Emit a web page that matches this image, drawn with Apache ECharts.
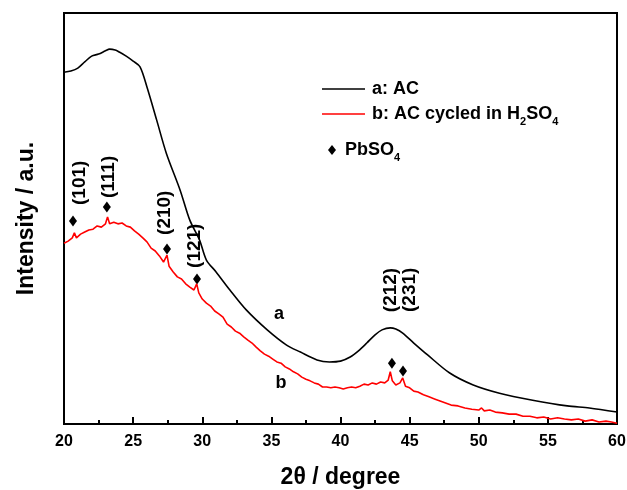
<!DOCTYPE html>
<html>
<head>
<meta charset="utf-8">
<script src="https://cdn.jsdelivr.net/npm/echarts@6/dist/echarts.min.js"></script>
<style>
  html, body { margin: 0; padding: 0; background: #fff; }
  #chart { width: 627px; height: 490px; }
</style>
</head>
<body>
<div id="chart"></div>
<script>
// XRD patterns: 2θ (degree) and relative intensity (a.u.)
const acTheta = [20.0, 20.5, 21.0, 21.5, 22.0, 22.5, 23.0, 23.3, 23.7, 24.0, 24.5, 25.0, 25.5, 26.0, 26.7, 27.4,
  28.4, 29.1, 29.8, 30.3, 31.0, 32.0, 33.2, 34.7, 36.1, 37.1, 38.3, 39.2, 40.0, 40.7, 41.3, 41.9, 42.5, 43.0,
  43.6, 44.0, 44.5, 45.3, 46.3, 47.9, 49.6, 51.5, 53.9, 56.4, 58.0, 60.0];
const acIntensity = [85.6, 85.9, 86.6, 88.1, 89.5, 90.0, 90.8, 91.2, 91.0, 90.5, 89.5, 88.3, 86.9, 82.0, 74.0, 65.9,
  56.9, 49.6, 44.8, 39.9, 37.0, 32.6, 27.7, 22.9, 19.2, 17.5, 15.6, 15.1, 15.3, 16.3, 17.8, 19.7, 21.7, 22.9,
  23.4, 23.1, 22.1, 19.7, 16.8, 12.4, 9.5, 7.5, 5.8, 4.4, 3.9, 2.9];

const cycledTheta = [20.0, 20.3, 20.6, 20.75, 20.9, 21.2, 21.5, 21.8, 22.1, 22.4, 22.7, 23.0, 23.15, 23.3, 23.6, 23.9,
  24.2, 24.5, 24.8, 25.1, 25.4, 25.7, 26.0, 26.3, 26.6, 26.9, 27.2, 27.45, 27.6, 27.9, 28.2, 28.5, 28.8, 29.1,
  29.4, 29.6, 29.75, 30.0, 30.3, 30.6, 30.9, 31.2, 31.5, 31.8, 32.1, 32.4, 32.7, 33.0, 33.3, 33.6, 33.9, 34.2,
  34.5, 34.8, 35.1, 35.4, 35.7, 36.0, 36.3, 36.6, 36.9, 37.2, 37.5, 37.8, 38.1, 38.4, 38.7, 39.0, 39.3, 39.6,
  39.9, 40.2, 40.5, 40.8, 41.1, 41.4, 41.7, 42.0, 42.3, 42.6, 42.9, 43.2, 43.45, 43.6, 43.75, 44.0, 44.3, 44.5,
  44.7, 45.0, 45.3, 45.6, 46.0, 46.4, 46.8, 47.2, 47.6, 48.0, 48.5, 49.0, 49.5, 50.0, 50.2, 50.4, 50.8, 51.2,
  51.7, 52.2, 52.7, 53.2, 53.7, 54.2, 54.7, 55.2, 55.7, 56.2, 56.7, 57.2, 57.7, 58.2, 58.7, 59.2, 59.6, 60.0];
const cycledIntensity = [44.0, 44.5, 45.3, 46.5, 45.3, 46.2, 46.7, 47.2, 47.4, 48.2, 47.9, 48.7, 50.4, 48.7, 49.1, 48.7,
  48.9, 48.2, 47.9, 47.0, 46.2, 45.3, 44.3, 42.8, 42.1, 40.9, 39.4, 41.1, 38.4, 37.0, 35.8, 35.3, 34.1, 33.3,
  32.6, 34.1, 31.9, 30.4, 29.4, 28.7, 27.5, 26.8, 26.0, 24.3, 23.6, 22.6, 22.1, 21.2, 20.4, 19.7, 18.7, 17.8,
  17.0, 16.5, 15.8, 15.1, 14.8, 13.9, 13.4, 12.7, 12.2, 11.4, 10.9, 10.5, 10.0, 9.7, 9.0, 9.0, 8.8, 9.0,
  8.8, 8.5, 8.8, 9.0, 8.8, 9.2, 9.7, 9.5, 10.0, 9.7, 10.2, 10.0, 10.7, 12.7, 10.5, 9.5, 10.0, 11.2,
  9.2, 8.8, 8.0, 7.8, 7.1, 6.6, 6.1, 5.6, 5.1, 4.6, 4.4, 3.9, 3.6, 3.4, 3.9, 3.2, 3.4, 2.9,
  2.7, 2.4, 2.4, 1.9, 1.9, 1.5, 1.7, 1.2, 1.5, 1.2, 1.0, 1.2, 0.7, 1.0, 0.5, 0.7, 0.5, 0.2];

// PbSO4 reflections marked on the cycled pattern
const pbso4Planes = ['(101)', '(111)', '(210)', '(121)', '(212)', '(231)'];
const pbso4Theta = [20.65, 23.1, 27.45, 29.62, 43.72, 44.52];
const pbso4Marker = [49.4, 52.8, 42.6, 35.3, 14.8, 12.9];

// Curve tags
const curveTags = ['a', 'b'];
const curveTagTheta = [35.55, 35.7];
const curveTagIntensity = [26.8, 10.0];

const seriesNames = ['a: AC', 'b: AC cycled in H2SO4', 'PbSO4'];

// on-screen shift [right, down] of each (hkl) tag's start from its marker
const planeLabelShift = [[7, -16], [2, -9], [-2, -14], [-2, -11], [-1, -51], [7, -59]];

const FONT = '"Liberation Sans", Arial, sans-serif';

function zip(xs, ys) { return xs.map((x, i) => [x, ys[i]]); }

const richText = {
  t: { fontSize: 18, fontWeight: 'bold', fontFamily: FONT, color: '#000', lineHeight: 26, verticalAlign: 'middle' },
  s: { fontSize: 11, fontWeight: 'bold', fontFamily: FONT, color: '#000', verticalAlign: 'bottom', lineHeight: 11 }
};
function legendText(name) {
  if (name === seriesNames[1]) return '{t|b: AC cycled in H}{s|2}{t|SO}{s|4}';
  if (name === seriesNames[2]) return '{t|PbSO}{s|4}';
  return '{t|' + name + '}';
}

const chart = echarts.init(document.getElementById('chart'), null, { renderer: 'canvas' });

const legendBase = {
  orient: 'vertical', padding: 0, itemGap: 0,
  formatter: legendText,
  textStyle: { rich: richText, padding: [0, 0, 0, 2] },
  selectedMode: false
};

chart.setOption({
  animation: false,
  backgroundColor: '#fff',
  grid: {
    left: 64, right: 10, top: 13, bottom: 66, show: true, borderColor: '#000', borderWidth: 2,
    containLabel: false, outerBoundsMode: 'none'
  },
  legend: [
    Object.assign({}, legendBase, { data: [{ name: seriesNames[0], icon: 'rect' }], left: 322, top: 80, itemWidth: 43, itemHeight: 1.6 }),
    Object.assign({}, legendBase, { data: [{ name: seriesNames[1], icon: 'rect' }], left: 322, top: 105, itemWidth: 43, itemHeight: 1.6 }),
    Object.assign({}, legendBase, {
      data: [{ name: seriesNames[2], icon: 'diamond' }], left: 328, top: 141, itemWidth: 8, itemHeight: 10,
      itemStyle: { color: '#000', opacity: 1 },
      textStyle: { rich: richText, padding: [0, 0, 0, 4] }
    })
  ],
  xAxis: {
    type: 'value', min: 20, max: 60, interval: 5,
    name: '2θ / degree', nameLocation: 'middle', nameGap: 42,
    nameTextStyle: { fontSize: 23, fontWeight: 'bold', fontFamily: FONT, color: '#000' },
    axisLine: { lineStyle: { color: '#000', width: 2 } },
    axisTick: { inside: true, length: 7, lineStyle: { color: '#000', width: 2 } },
    minorTick: { show: true, splitNumber: 2, length: 4, lineStyle: { color: '#000', width: 2 } },
    axisLabel: { fontSize: 16, fontWeight: 'bold', fontFamily: FONT, color: '#000', margin: 10 },
    splitLine: { show: false }
  },
  yAxis: {
    type: 'value', min: 0, max: 100,
    name: 'Intensity / a.u.', nameLocation: 'middle', nameGap: 26,
    nameTextStyle: { fontSize: 23, fontWeight: 'bold', fontFamily: FONT, color: '#000' },
    axisLine: { show: true, lineStyle: { color: '#000', width: 2 } },
    axisTick: { show: false },
    axisLabel: { show: false },
    splitLine: { show: false }
  },
  series: [
    {
      name: seriesNames[0], type: 'line', data: zip(acTheta, acIntensity),
      symbol: 'none', smooth: 0.3, color: '#000',
      lineStyle: { color: '#000', width: 1.6 },
      markPoint: {
        symbol: 'circle', symbolSize: 0,
        label: { show: true, position: 'inside', fontSize: 18, fontWeight: 'bold', fontFamily: FONT, color: '#000', formatter: p => p.name },
        data: [{ name: curveTags[0], coord: [curveTagTheta[0], curveTagIntensity[0]] }]
      }
    },
    {
      name: seriesNames[1], type: 'line', data: zip(cycledTheta, cycledIntensity),
      symbol: 'none', color: '#f00',
      lineStyle: { color: '#f00', width: 1.6 },
      markPoint: {
        symbol: 'circle', symbolSize: 0,
        label: { show: true, position: 'inside', fontSize: 18, fontWeight: 'bold', fontFamily: FONT, color: '#000', formatter: p => p.name },
        data: [{ name: curveTags[1], coord: [curveTagTheta[1], curveTagIntensity[1]] }]
      }
    },
    {
      name: seriesNames[2], type: 'scatter', symbol: 'diamond', symbolSize: [8, 11], color: '#000',
      itemStyle: { color: '#000', opacity: 1 },
      data: pbso4Theta.map((x, i) => ({
        value: [x, pbso4Marker[i]],
        label: {
          // the label offset is applied in the rotated frame of the text
          show: true, formatter: pbso4Planes[i], position: 'inside', rotate: 90,
          align: 'left', verticalAlign: 'middle',
          offset: [-planeLabelShift[i][1], planeLabelShift[i][0]],
          fontSize: 19, fontWeight: 'bold', fontFamily: FONT, color: '#000'
        }
      }))
    }
  ]
});
</script>
</body>
</html>
